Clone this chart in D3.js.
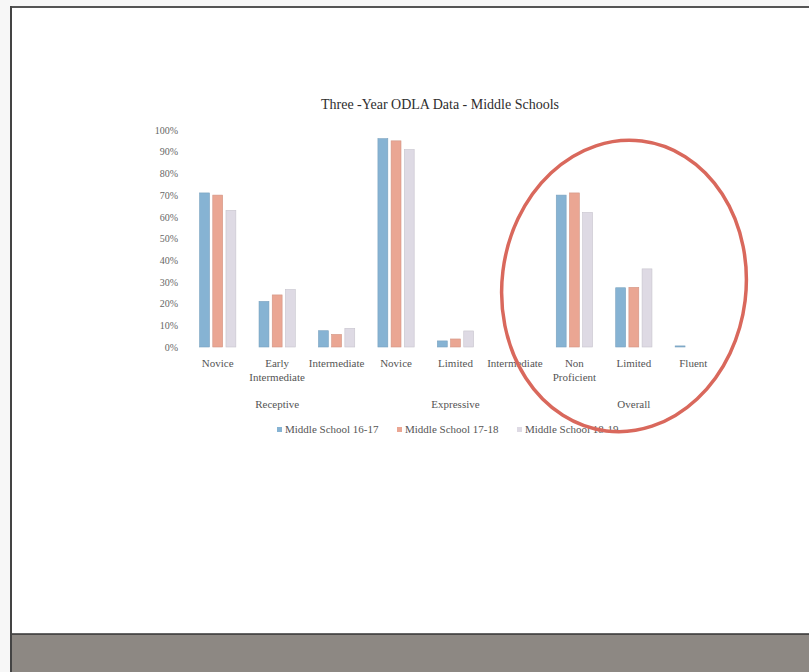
<!DOCTYPE html>
<html>
<head>
<meta charset="utf-8">
<script src="https://cdn.jsdelivr.net/npm/d3@7"></script>
<style>
  html, body { margin: 0; padding: 0; background: #fafafa; }
  svg { display: block; font-family: "Liberation Serif", "DejaVu Serif", serif; }
</style>
</head>
<body>
<div id="chart"></div>
<script>
var categories = ["Novice", "Early Intermediate", "Intermediate", "Novice", "Limited", "Intermediate", "Non Proficient", "Limited", "Fluent"];
var categoryLines = [["Novice"], ["Early", "Intermediate"], ["Intermediate"], ["Novice"], ["Limited"], ["Intermediate"], ["Non", "Proficient"], ["Limited"], ["Fluent"]];
var groups = ["Receptive", "Expressive", "Overall"];
var seriesNames = ["Middle School 16-17", "Middle School 17-18", "Middle School 18-19"];
var ms1617 = [0.71, 0.21, 0.075, 0.96, 0.028, 0, 0.70, 0.273, 0.005];
var ms1718 = [0.70, 0.24, 0.058, 0.95, 0.037, 0, 0.71, 0.275, 0];
var ms1819 = [0.63, 0.265, 0.086, 0.91, 0.074, 0, 0.62, 0.36, 0];
var yTicks = [0, 0.1, 0.2, 0.3, 0.4, 0.5, 0.6, 0.7, 0.8, 0.9, 1];
var colors = ["#86b3d3", "#eaa693", "#dedae4"];

var W = 809, H = 672;
var svg = d3.select("#chart").append("svg").attr("width", W).attr("height", H);

// slide frame + dark strip at the bottom of the photo
svg.append("rect").attr("x", 0).attr("y", 0).attr("width", W).attr("height", H).attr("fill", "#f7f7f7");
svg.append("rect").attr("x", 12).attr("y", 7).attr("width", W - 12).attr("height", 627).attr("fill", "#ffffff");
svg.append("rect").attr("x", 12).attr("y", 634).attr("width", W - 12).attr("height", H - 634).attr("fill", "#8d8883");
svg.append("line").attr("x1", 11).attr("x2", W).attr("y1", 7).attr("y2", 7).attr("stroke", "#555").attr("stroke-width", 2);
svg.append("line").attr("x1", 11).attr("x2", 11).attr("y1", 6).attr("y2", H).attr("stroke", "#444").attr("stroke-width", 2);
svg.append("line").attr("x1", 12).attr("x2", W).attr("y1", 634).attr("y2", 634).attr("stroke", "#333").attr("stroke-width", 1.5);

var keys = d3.range(categories.length);
var x0 = d3.scaleBand().domain(keys).range([188, 723]).paddingInner(0.39).paddingOuter(0.195);
var x1 = d3.scaleBand().domain(d3.range(3)).range([0, x0.bandwidth()]).paddingInner(0.25);
var y = d3.scaleLinear().domain([0, 1]).range([347, 130]);

svg.append("text").attr("x", 440).attr("y", 109).attr("text-anchor", "middle")
  .attr("font-size", 14).attr("fill", "#2e2e2e").text("Three -Year ODLA Data - Middle Schools");

var yAxis = d3.axisLeft(y).tickValues(yTicks).tickFormat(d3.format(".0%")).tickSize(0).tickPadding(0);
var ga = svg.append("g").attr("transform", "translate(178,0)").call(yAxis);
ga.select(".domain").remove();
ga.selectAll("text").attr("font-size", 10).attr("fill", "#666").attr("font-family", "Liberation Serif");

var series = [ms1617, ms1718, ms1819];
var rows = [];
series.forEach(function (vals, s) {
  vals.forEach(function (v, i) { rows.push({ cat: i, s: s, v: v }); });
});

svg.append("g").selectAll("rect").data(rows).enter().append("rect")
  .attr("x", function (d) { return x0(d.cat) + x1(d.s); })
  .attr("y", function (d) { return y(d.v); })
  .attr("width", x1.bandwidth())
  .attr("height", function (d) { return y(0) - y(d.v); })
  .attr("fill", function (d) { return colors[d.s]; })
  .attr("stroke", function (d) { return d3.color(colors[d.s]).darker(0.3); })
  .attr("stroke-width", 0.6);

// category labels
var cl = svg.append("g").selectAll("text").data(keys).enter().append("text")
  .attr("x", function (i) { return x0(i) + x0.bandwidth() / 2; })
  .attr("y", 367).attr("text-anchor", "middle").attr("font-size", 11).attr("fill", "#555");
cl.selectAll("tspan").data(function (i) { return categoryLines[i]; }).enter().append("tspan")
  .attr("x", function () { return d3.select(this.parentNode).attr("x"); })
  .attr("dy", function (d, j) { return j === 0 ? 0 : 14; })
  .text(function (d) { return d; });

// group labels under the middle category of each group
svg.append("g").selectAll("text").data(groups).enter().append("text")
  .attr("x", function (g, k) { return x0(k * 3 + 1) + x0.bandwidth() / 2; })
  .attr("y", 408).attr("text-anchor", "middle").attr("font-size", 11).attr("fill", "#555")
  .text(function (g) { return g; });

// legend
var legendX = [277, 397, 517];
var lg = svg.append("g").selectAll("g").data(seriesNames).enter().append("g")
  .attr("transform", function (d, i) { return "translate(" + legendX[i] + ",433)"; });
lg.append("rect").attr("x", 0).attr("y", -6).attr("width", 5).attr("height", 5)
  .attr("fill", function (d, i) { return colors[i]; });
lg.append("text").attr("x", 8).attr("y", 0).attr("font-size", 11).attr("fill", "#555")
  .text(function (d) { return d; });

// hand-drawn red circle around the Overall group
svg.append("ellipse").attr("cx", 624).attr("cy", 286).attr("rx", 122).attr("ry", 146)
  .attr("transform", "rotate(7,624,286)")
  .attr("fill", "none").attr("stroke", "#d9685c").attr("stroke-width", 3.5);
</script>
</body>
</html>
